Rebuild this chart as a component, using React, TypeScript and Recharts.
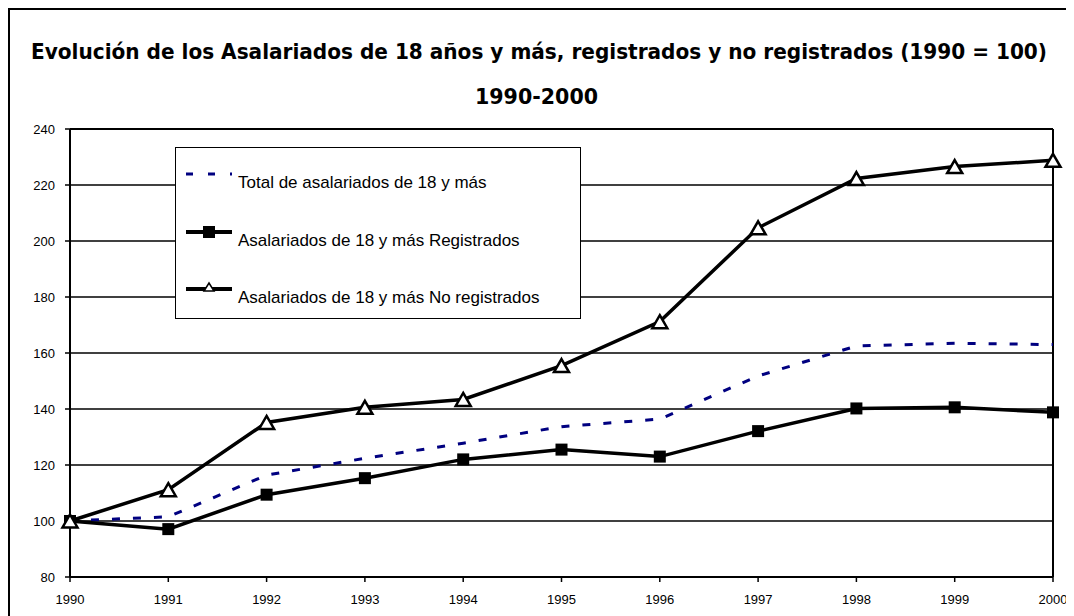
import React from 'react';
import {
    LineChart,
    Line,
    XAxis,
    YAxis,
    CartesianGrid,
    Legend,
    ReferenceLine,
} from 'recharts';

const years = [1990, 1991, 1992, 1993, 1994, 1995, 1996, 1997, 1998, 1999, 2000];
const totalValues = [100, 101.5, 116.4, 122.4, 127.8, 133.7, 136.4, 151.8, 162.5, 163.5, 163];
const registradosValues = [100, 97.1, 109.4, 115.3, 122, 125.5, 123, 132.1, 140.2, 140.6, 138.8];
const noRegistradosValues = [100, 111.2, 135.2, 140.6, 143.4, 155.5, 171.2, 204.7, 222.3, 226.6, 228.8];
const yTicks = [80, 100, 120, 140, 160, 180, 200, 220, 240];

const seriesNames = {
    total: 'Total de asalariados de 18 y más',
    registrados: 'Asalariados de 18 y más Registrados',
    noRegistrados: 'Asalariados de 18 y más No registrados',
};

const data = years.map((year, i) => ({
    year,
    total: totalValues[i],
    registrados: registradosValues[i],
    noRegistrados: noRegistradosValues[i],
}));

const NAVY = '#000080';
const tickFont = { fontFamily: '"Liberation Sans", Arial, sans-serif', fontSize: 13, fill: '#000' };
const titleFont = '"DejaVu Sans Condensed", "DejaVu Sans", sans-serif';

// the 1990 point of the total series shows a small green marker behind the others
const TotalDot = (props: any) => {
    const { cx, cy, index } = props;
    if (index !== 0) return <g key={`td-${index}`} />;
    return <rect key="td-0" x={cx - 6} y={cy - 6} width={12} height={12} fill="#008000" />;
};

const SquareDot = (props: any) => {
    const { cx, cy, index } = props;
    return <rect key={`sq-${index}`} x={cx - 6} y={cy - 6} width={12} height={12} fill="#000" />;
};

const TriangleDot = (props: any) => {
    const { cx, cy, index } = props;
    const w = 15;
    const h = 13;
    return (
        <path
            key={`tr-${index}`}
            d={`M${cx},${cy - h / 2} L${cx + w / 2},${cy + h / 2} L${cx - w / 2},${cy + h / 2} Z`}
            fill="#fff"
            stroke="#000"
            strokeWidth={2.5}
            strokeLinejoin="miter"
        />
    );
};

const legendText: React.CSSProperties = {
    position: 'absolute',
    left: 62,
    fontFamily: '"Liberation Sans", Arial, sans-serif',
    fontSize: 17,
    color: '#000',
    whiteSpace: 'nowrap',
    lineHeight: '20px',
};

const LegendBox = () => (
    <div style={{ position: 'relative', width: 404, height: 170, background: '#fff', border: '1.5px solid #000' }}>
        <svg width={70} height={170} style={{ position: 'absolute', left: 0, top: 0 }}>
            <line x1={10} x2={56} y1={26} y2={26} stroke={NAVY} strokeWidth={3} strokeDasharray="7 15" />
            <line x1={10} x2={56} y1={84} y2={84} stroke="#000" strokeWidth={4} />
            <rect x={27} y={78} width={12} height={12} fill="#000" />
            <line x1={10} x2={56} y1={141} y2={141} stroke="#000" strokeWidth={4} />
            <path d="M33,135 L38,143 L28,143 Z" fill="#fff" stroke="#000" strokeWidth={1.5} />
        </svg>
        <div style={{ ...legendText, top: 25 }}>{seriesNames.total}</div>
        <div style={{ ...legendText, top: 83 }}>{seriesNames.registrados}</div>
        <div style={{ ...legendText, top: 140 }}>{seriesNames.noRegistrados}</div>
    </div>
);

export default function App() {
    return (
        <div
            style={{
                position: 'relative',
                width: 1064,
                height: 606,
                borderLeft: '2px solid #000',
                borderTop: '2px solid #000',
                background: '#fff',
                overflow: 'hidden',
            }}
        >
            <LineChart width={1064} height={606} data={data} margin={{ top: 119, right: 21, left: 0, bottom: 9 }}>
                <CartesianGrid horizontal vertical={false} stroke="#000" strokeWidth={1.3} />
                <XAxis
                    dataKey="year"
                    type="number"
                    domain={[1990, 2000]}
                    ticks={years}
                    height={30}
                    tick={tickFont}
                    fontSize={13}
                    tickSize={5}
                    tickMargin={13}
                    axisLine={{ stroke: '#000', strokeWidth: 2 }}
                    tickLine={{ stroke: '#000', strokeWidth: 1.5 }}
                />
                <YAxis
                    domain={[80, 240]}
                    ticks={yTicks}
                    width={60}
                    tick={tickFont}
                    fontSize={13}
                    tickSize={5}
                    tickMargin={10}
                    axisLine={{ stroke: '#000', strokeWidth: 2 }}
                    tickLine={{ stroke: '#000', strokeWidth: 1.5 }}
                />
                <ReferenceLine y={240} stroke="#000" strokeWidth={2} />
                <ReferenceLine x={2000} stroke="#000" strokeWidth={2} />
                <Legend
                    layout="vertical"
                    align="center"
                    verticalAlign="middle"
                    content={() => <LegendBox />}
                    wrapperStyle={{ left: 165, top: 137, width: 407, height: 173 }}
                />
                <Line
                    dataKey="total"
                    name={seriesNames.total}
                    stroke={NAVY}
                    strokeWidth={3}
                    strokeDasharray="8 13"
                    dot={TotalDot}
                    activeDot={false}
                    isAnimationActive={false}
                />
                <Line
                    dataKey="registrados"
                    name={seriesNames.registrados}
                    stroke="#000"
                    strokeWidth={3.5}
                    dot={SquareDot}
                    activeDot={false}
                    isAnimationActive={false}
                />
                <Line
                    dataKey="noRegistrados"
                    name={seriesNames.noRegistrados}
                    stroke="#000"
                    strokeWidth={3.5}
                    dot={TriangleDot}
                    activeDot={false}
                    isAnimationActive={false}
                />
            </LineChart>
            <svg width={1064} height={110} style={{ position: 'absolute', left: 0, top: 0, pointerEvents: 'none' }}>
                <text
                    x={21}
                    y={49}
                    textLength={1016}
                    lengthAdjust="spacingAndGlyphs"
                    fontFamily={titleFont}
                    fontStretch="condensed"
                    fontWeight="bold"
                    fontSize={21}
                    fill="#000"
                >
                    Evolución de los Asalariados de 18 años y más, registrados y no registrados (1990 = 100)
                </text>
                <text
                    x={465}
                    y={94}
                    textLength={123}
                    lengthAdjust="spacingAndGlyphs"
                    fontFamily={titleFont}
                    fontStretch="condensed"
                    fontWeight="bold"
                    fontSize={21}
                    fill="#000"
                >
                    1990-2000
                </text>
            </svg>
        </div>
    );
}
